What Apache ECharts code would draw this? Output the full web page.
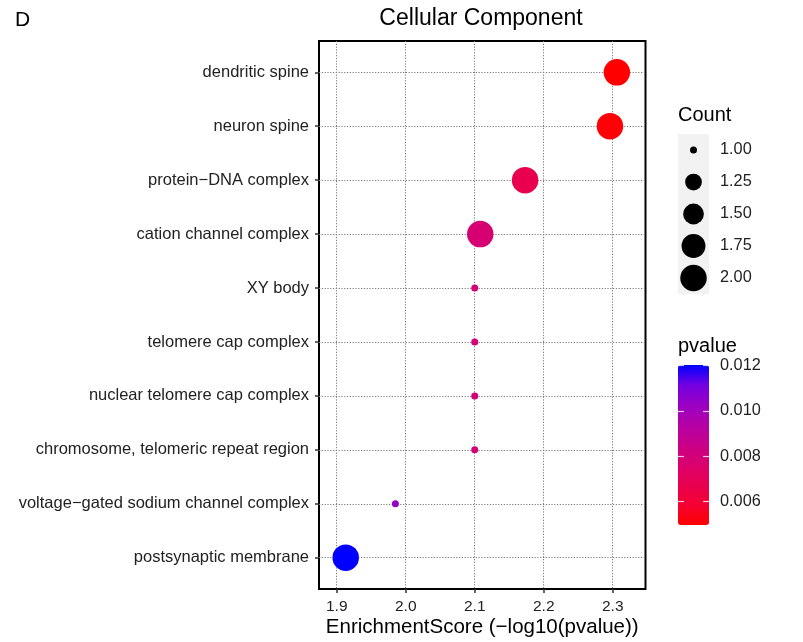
<!DOCTYPE html>
<html>
<head>
<meta charset="utf-8">
<script src="https://cdn.jsdelivr.net/npm/echarts@6/dist/echarts.min.js"></script>
<style>
html, body { margin: 0; padding: 0; background: #fff; }
#main { width: 803px; height: 642px; }
</style>
</head>
<body>
<div id="main"></div>
<script>
// GO terms, listed top to bottom as in the figure
const categories = [
  'dendritic spine',
  'neuron spine',
  'protein\u2212DNA complex',
  'cation channel complex',
  'XY body',
  'telomere cap complex',
  'nuclear telomere cap complex',
  'chromosome, telomeric repeat region',
  'voltage\u2212gated sodium channel complex',
  'postsynaptic membrane'
];
const enrichmentScore = [2.306, 2.296, 2.173, 2.108, 2.100, 2.100, 2.100, 2.100, 1.985, 1.913];
const counts = [2, 2, 2, 2, 1, 1, 1, 1, 1, 2];
const pvalues = [0.00497, 0.00506, 0.00671, 0.00780, 0.00794, 0.00794, 0.00794, 0.00794, 0.01035, 0.01202];

const xTicks = [1.9, 2.0, 2.1, 2.2, 2.3];
const countLegend = [1.00, 1.25, 1.50, 1.75, 2.00];
const pvalueTicks = [0.006, 0.008, 0.010, 0.012];

const PMIN = 0.00497, PMAX = 0.01202;
const FONT = 'Liberation Sans, Arial, Helvetica, sans-serif';

// point diameter for a count (size scale)
function sizeOf(c) {
  return 7 + 19.5 * Math.sqrt(c - 1);
}

const rowIdx = categories.map((_, i) => i);
const legendIdx = countLegend.map((_, i) => i);
const dotted = { color: '#7a7a7a', width: 1, type: [1.2, 1.6] };

let myChart = echarts.init(document.getElementById('main'));

let option = {
  animation: false,
  graphic: [
    { type: 'text', x: 15, y: 20, style: { text: 'D', font: '21px ' + FONT, fill: '#000', verticalAlign: 'middle' } },
    { type: 'text', x: 481, y: 19, style: { text: 'Cellular Component', font: '23px ' + FONT, fill: '#000', align: 'center', verticalAlign: 'middle' } },
    { type: 'text', x: 678, y: 115, style: { text: 'Count', font: '20px ' + FONT, fill: '#000', verticalAlign: 'middle' } },
    { type: 'text', x: 678, y: 346, style: { text: 'pvalue', font: '20px ' + FONT, fill: '#000', verticalAlign: 'middle' } }
  ],
  grid: [
    { left: 319, top: 41, width: 326.5, height: 548, outerBoundsMode: 'none', show: true, borderColor: '#000', borderWidth: 2, backgroundColor: 'transparent' },
    { left: 678, top: 134, width: 31, height: 160, outerBoundsMode: 'none', show: true, borderWidth: 0, backgroundColor: '#f2f2f2' },
    { left: 678, top: 365, width: 31, height: 160, outerBoundsMode: 'none', show: false }
  ],
  xAxis: [
    {
      gridIndex: 0, type: 'value', min: 1.8743, max: 2.3475,
      axisLine: { show: false, onZero: false },
      axisTick: { customValues: xTicks, length: 4, lineStyle: { color: '#333', width: 1.5 } },
      axisLabel: { customValues: xTicks, formatter: v => v.toFixed(1), margin: 10, fontSize: 15.5, color: '#222', fontFamily: FONT },
      splitLine: { show: true, lineStyle: dotted },
      name: 'EnrichmentScore (\u2212log10(pvalue))',
      nameLocation: 'middle', nameGap: 28, nameMoveOverlap: false,
      nameTextStyle: { fontSize: 20.5, color: '#000', fontFamily: FONT }
    },
    { gridIndex: 1, type: 'value', min: 0, max: 1, show: false, axisLine: { onZero: false } },
    { gridIndex: 2, type: 'value', min: 0, max: 1, show: false, axisLine: { onZero: false } }
  ],
  yAxis: [
    {
      gridIndex: 0, type: 'value', inverse: true, min: -0.58, max: 9.58,
      axisLine: { show: false, onZero: false },
      axisTick: { customValues: rowIdx, length: 4, lineStyle: { color: '#333', width: 1.5 } },
      axisLabel: { customValues: rowIdx, formatter: v => categories[v], margin: 10, fontSize: 16.5, color: '#222', fontFamily: FONT },
      splitLine: { show: true, lineStyle: dotted }
    },
    {
      gridIndex: 1, type: 'value', inverse: true, min: -0.5, max: 4.5, position: 'right',
      axisLine: { show: false, onZero: false },
      axisTick: { show: false, customValues: legendIdx },
      axisLabel: { customValues: legendIdx, formatter: v => countLegend[v].toFixed(2), margin: 11, fontSize: 16.3, color: '#222', fontFamily: FONT },
      splitLine: { show: false }
    },
    {
      gridIndex: 2, type: 'value', min: PMIN, max: PMAX, position: 'right', zlevel: 1,
      axisLine: { show: false, onZero: false },
      axisTick: { customValues: pvalueTicks, inside: true, length: 6, lineStyle: { color: '#fff', width: 1.2, opacity: 0.8 } },
      axisLabel: { customValues: pvalueTicks, formatter: v => v.toFixed(3), margin: 11, fontSize: 16.3, color: '#222', fontFamily: FONT },
      splitLine: { show: false }
    },
    {
      gridIndex: 2, type: 'value', min: PMIN, max: PMAX, position: 'left', zlevel: 1,
      axisLine: { show: false, onZero: false },
      axisTick: { customValues: pvalueTicks, inside: true, length: 6, lineStyle: { color: '#fff', width: 1.2, opacity: 0.8 } },
      axisLabel: { show: false },
      splitLine: { show: false }
    }
  ],
  visualMap: {
    type: 'continuous',
    seriesIndex: 0,
    dimension: 3,
    min: PMIN, max: PMAX,
    calculable: false,
    hoverLink: false,
    left: 678, top: 365,
    itemWidth: 31, itemHeight: 160,
    padding: 0,
    inRange: {
      color: ['#FF0000', '#F40031', '#E8004F', '#DA006C', '#C90089', '#B500A5', '#9A00C3', '#7300E1', '#0000FF']
    }
  },
  series: [
    {
      type: 'scatter',
      xAxisIndex: 0, yAxisIndex: 0,
      data: categories.map((c, i) => [enrichmentScore[i], i, counts[i], pvalues[i]]),
      symbolSize: val => sizeOf(val[2]),
      itemStyle: { opacity: 1 },
      z: 5
    },
    {
      type: 'scatter',
      xAxisIndex: 1, yAxisIndex: 1,
      data: countLegend.map((c, i) => [0.5, i, c]),
      symbolSize: val => sizeOf(val[2]),
      itemStyle: { color: '#000', opacity: 1 }
    }
  ]
};

myChart.setOption(option);
</script>
</body>
</html>
